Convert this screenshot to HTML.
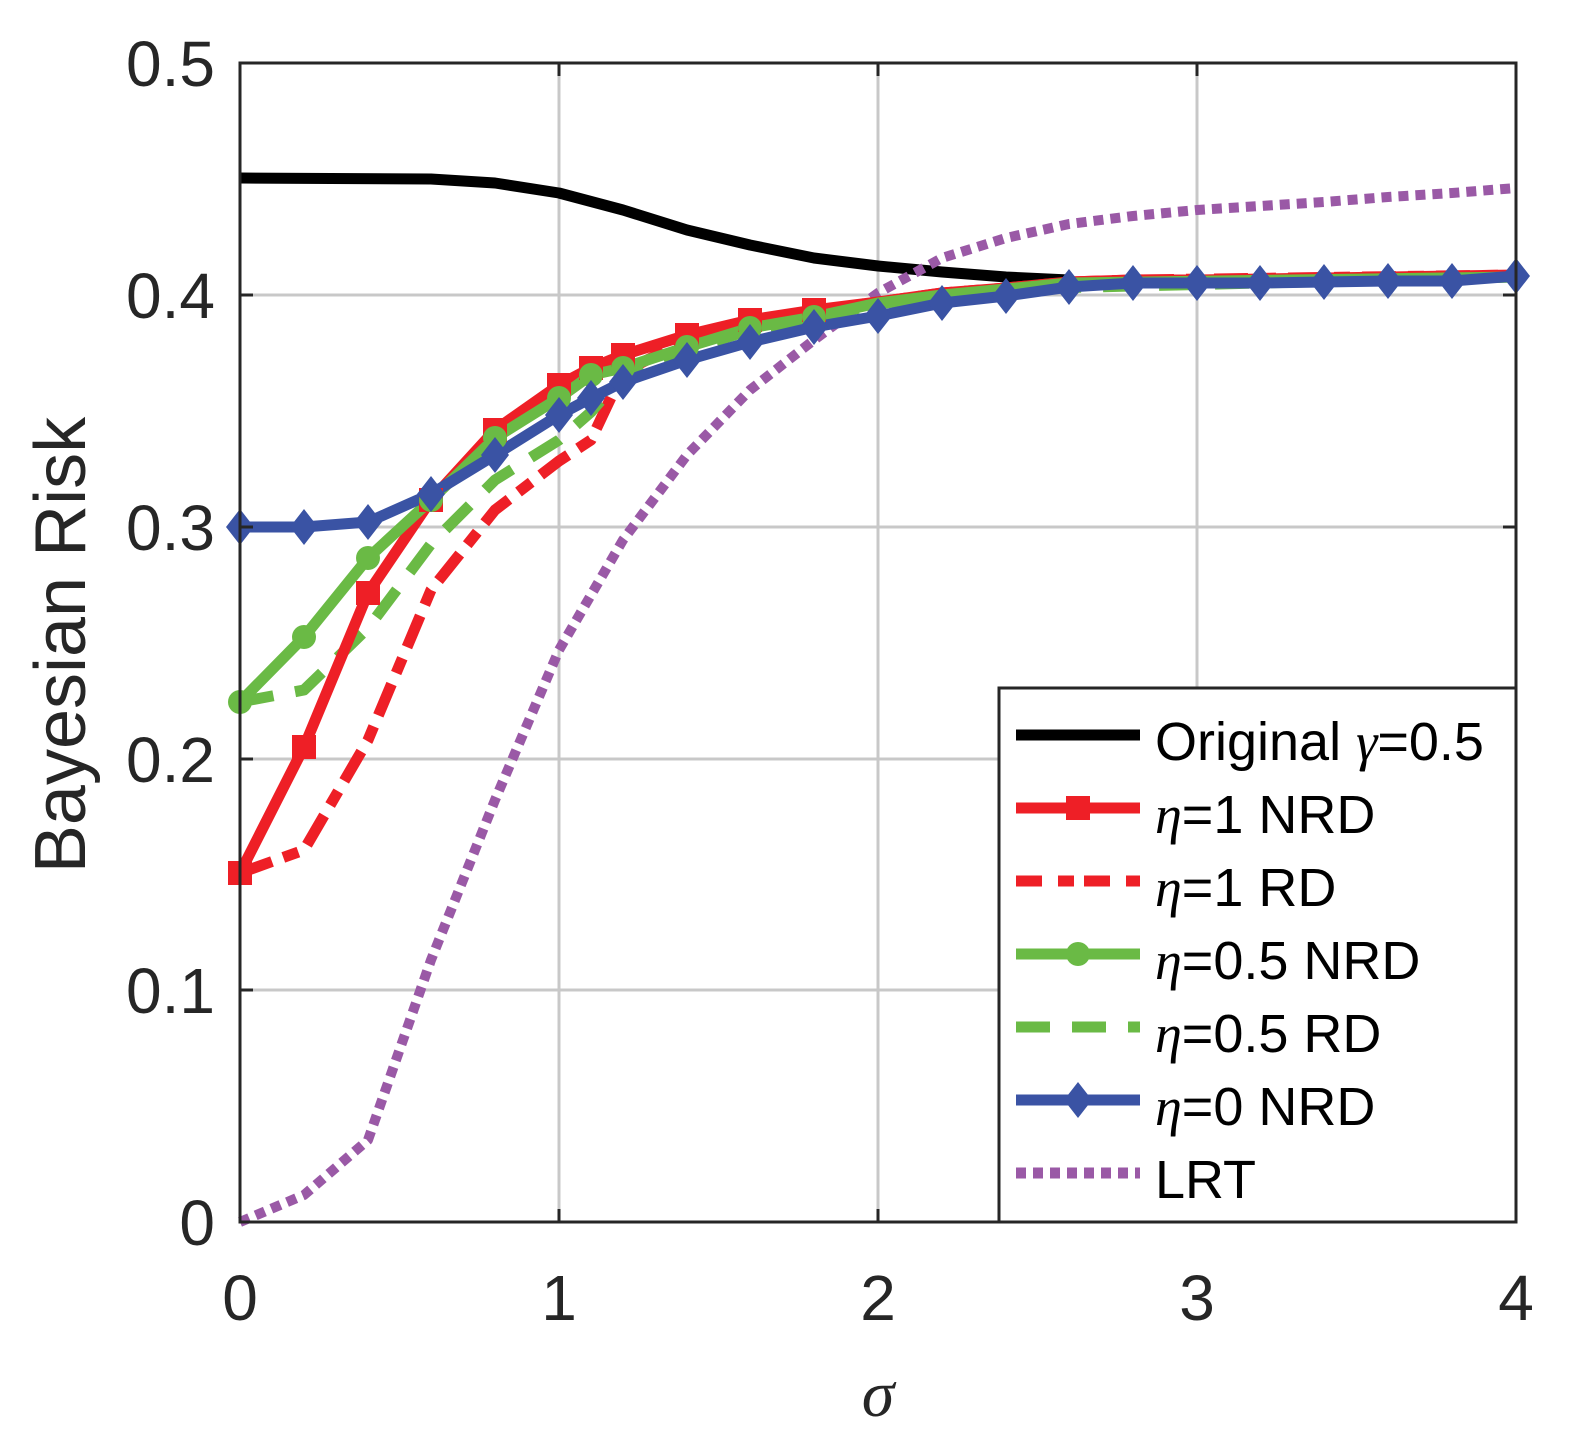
<!DOCTYPE html>
<html><head><meta charset="utf-8"><style>body{margin:0;background:#fff}svg{display:block}</style></head><body>
<svg width="1577" height="1445" xmlns="http://www.w3.org/2000/svg" font-family="Liberation Sans, sans-serif">
<rect width="1577" height="1445" fill="#fff"/>
<g stroke="#c8c8c8" stroke-width="3">
<line x1="559" y1="63" x2="559" y2="1222"/><line x1="878" y1="63" x2="878" y2="1222"/><line x1="1197" y1="63" x2="1197" y2="1222"/>
<line x1="240" y1="295" x2="1516" y2="295"/><line x1="240" y1="527" x2="1516" y2="527"/><line x1="240" y1="759" x2="1516" y2="759"/><line x1="240" y1="990" x2="1516" y2="990"/>
</g>
<g fill="none" stroke-linejoin="round">
<polyline stroke="#000" stroke-width="11" points="240,178 431,179 495,183 559,193 623,210 687,230 750,245 814,258 878,266 942,272 1006,277 1069,280"/>
<polyline stroke="#9a59a6" stroke-width="10" stroke-dasharray="10,7" points="240,1222 304,1195 368,1140 431,960 495,800 559,650 623,540 687,455 750,390 814,340 878,293 942,258 1006,238 1069,224 1133,216 1197,210 1260,206 1324,202 1388,197 1452,193 1516,188"/>
<polyline stroke="#ee1f26" stroke-width="11" stroke-dasharray="34,12,16,12" points="240,873 304,850 368,740 431,590 495,510 559,461 591,440 623,372 687,340 750,325 814,312 878,302 942,293 1006,288 1069,282 1133,280 1516,275"/>
<polyline stroke="#6aba45" stroke-width="11" stroke-dasharray="34,22" points="240,702 304,690 368,628 431,544 495,480 559,440 591,412 623,375 687,350 750,330 814,318 878,304 942,296 1006,289 1516,277"/>
<polyline stroke="#ee1f26" stroke-width="11" points="240,873 304,747 368,593 431,500 495,430 559,385 591,368 623,355 687,335 750,320 814,310 878,302 942,293 1006,288 1069,282 1133,280 1197,280 1516,275"/>
<polyline stroke="#6aba45" stroke-width="11" points="240,702 304,637 368,558 431,500 495,438 559,398 591,375 623,368 687,347 750,328 814,317 878,303 942,295 1006,289 1069,283 1516,277"/>
<polyline stroke="#3a53a4" stroke-width="11" points="240,527 304,527 368,522 431,494 495,455 559,415 591,398 623,382 687,360 750,342 814,327 878,316 942,303 1006,296 1069,287 1133,283 1197,283 1260,283 1324,282 1388,281 1452,281 1516,276"/>
</g>
<g fill="#ee1f26">
<rect x="228" y="861" width="24" height="24"/><rect x="292" y="735" width="24" height="24"/><rect x="356" y="581" width="24" height="24"/><rect x="419" y="488" width="24" height="24"/><rect x="483" y="418" width="24" height="24"/><rect x="547" y="373" width="24" height="24"/><rect x="579" y="356" width="24" height="24"/><rect x="611" y="343" width="24" height="24"/><rect x="675" y="323" width="24" height="24"/><rect x="738" y="308" width="24" height="24"/><rect x="802" y="298" width="24" height="24"/>
</g>
<g fill="#6aba45">
<circle cx="240" cy="702" r="12"/><circle cx="304" cy="637" r="12"/><circle cx="368" cy="558" r="12"/><circle cx="431" cy="500" r="12"/><circle cx="495" cy="438" r="12"/><circle cx="559" cy="398" r="12"/><circle cx="591" cy="375" r="12"/><circle cx="623" cy="368" r="12"/><circle cx="687" cy="347" r="12"/><circle cx="750" cy="328" r="12"/><circle cx="814" cy="317" r="12"/>
</g>
<g fill="#3a53a4">
<path d="M240,509l14,18-14,18-14,-18zM304,509l14,18-14,18-14,-18zM368,504l14,18-14,18-14,-18zM431,476l14,18-14,18-14,-18zM495,437l14,18-14,18-14,-18zM559,397l14,18-14,18-14,-18zM591,380l14,18-14,18-14,-18zM623,364l14,18-14,18-14,-18zM687,342l14,18-14,18-14,-18zM750,324l14,18-14,18-14,-18zM814,309l14,18-14,18-14,-18zM878,298l14,18-14,18-14,-18zM942,285l14,18-14,18-14,-18zM1006,278l14,18-14,18-14,-18zM1069,269l14,18-14,18-14,-18zM1133,265l14,18-14,18-14,-18zM1197,265l14,18-14,18-14,-18zM1260,265l14,18-14,18-14,-18zM1324,264l14,18-14,18-14,-18zM1388,263l14,18-14,18-14,-18zM1452,263l14,18-14,18-14,-18zM1516,258l14,18-14,18-14,-18z"/>
</g>
<rect x="240" y="63" width="1276" height="1159" fill="none" stroke="#262626" stroke-width="3"/>
<g stroke="#262626" stroke-width="3">
<line x1="240" y1="295" x2="253" y2="295"/><line x1="240" y1="527" x2="253" y2="527"/><line x1="240" y1="759" x2="253" y2="759"/><line x1="240" y1="990" x2="253" y2="990"/>
<line x1="1516" y1="295" x2="1503" y2="295"/><line x1="1516" y1="527" x2="1503" y2="527"/><line x1="1516" y1="759" x2="1503" y2="759"/><line x1="1516" y1="990" x2="1503" y2="990"/>
<line x1="559" y1="1222" x2="559" y2="1209"/><line x1="878" y1="1222" x2="878" y2="1209"/><line x1="1197" y1="1222" x2="1197" y2="1209"/>
<line x1="559" y1="63" x2="559" y2="76"/><line x1="878" y1="63" x2="878" y2="76"/><line x1="1197" y1="63" x2="1197" y2="76"/>
</g>
<g font-size="64" fill="#262626" text-anchor="end">
<text x="215" y="86">0.5</text><text x="215" y="318">0.4</text><text x="215" y="550">0.3</text><text x="215" y="782">0.2</text><text x="215" y="1013">0.1</text><text x="215" y="1245">0</text>
</g>
<g font-size="64" fill="#262626" text-anchor="middle">
<text x="240" y="1320">0</text><text x="559" y="1320">1</text><text x="878" y="1320">2</text><text x="1197" y="1320">3</text><text x="1516" y="1320">4</text>
<text x="878" y="1416" font-family="Liberation Serif, serif" font-style="italic" font-size="66">σ</text>
<text transform="translate(85,645) rotate(-90)" font-size="72">Bayesian Risk</text>
</g>
<rect x="999" y="688" width="517" height="534" fill="#fff" stroke="#262626" stroke-width="3"/>
<g stroke-width="11">
<line x1="1016" y1="735" x2="1140" y2="735" stroke="#000"/>
<line x1="1016" y1="808" x2="1140" y2="808" stroke="#ee1f26"/><rect x="1066" y="796" width="24" height="24" fill="#ee1f26" stroke="none"/>
<line x1="1016" y1="881" x2="1140" y2="881" stroke="#ee1f26" stroke-dasharray="26,16,16,10"/>
<line x1="1016" y1="954" x2="1140" y2="954" stroke="#6aba45"/><circle cx="1078" cy="954" r="12" fill="#6aba45" stroke="none"/>
<line x1="1016" y1="1027" x2="1140" y2="1027" stroke="#6aba45" stroke-dasharray="34,22"/>
<line x1="1016" y1="1100" x2="1140" y2="1100" stroke="#3a53a4"/><path d="M1078,1082l14,18-14,18-14,-18z" fill="#3a53a4" stroke="none"/>
<line x1="1016" y1="1173" x2="1140" y2="1173" stroke="#9a59a6" stroke-dasharray="10,7"/>
</g>
<g font-size="54" fill="#000">
<text x="1155" y="760">Original <tspan font-family="Liberation Serif, serif" font-style="italic">γ</tspan>=0.5</text>
<text x="1155" y="833"><tspan font-family="Liberation Serif, serif" font-style="italic">η</tspan>=1 NRD</text>
<text x="1155" y="906"><tspan font-family="Liberation Serif, serif" font-style="italic">η</tspan>=1 RD</text>
<text x="1155" y="979"><tspan font-family="Liberation Serif, serif" font-style="italic">η</tspan>=0.5 NRD</text>
<text x="1155" y="1052"><tspan font-family="Liberation Serif, serif" font-style="italic">η</tspan>=0.5 RD</text>
<text x="1155" y="1125"><tspan font-family="Liberation Serif, serif" font-style="italic">η</tspan>=0 NRD</text>
<text x="1155" y="1198">LRT</text>
</g>
</svg>
</body></html>
